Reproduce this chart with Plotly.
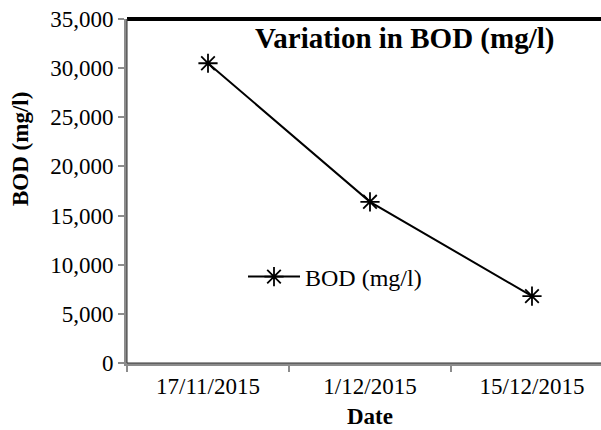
import plotly.graph_objects as go

dates = ["17/11/2015", "1/12/2015", "15/12/2015"]
bod = [30500, 16400, 6800]
series_name = "BOD (mg/l)"
y_ticks = [0, 5000, 10000, 15000, 20000, 25000, 30000, 35000]
y_tick_labels = ["0", "5,000", "10,000", "15,000", "20,000", "25,000", "30,000", "35,000"]

W, H = 601, 430
L, R, T, B = 127, 0, 19, 67
PW, PH = W - L - R, H - T - B

fig = go.Figure()
fig.add_trace(go.Scatter(
    x=dates, y=bod, name=series_name, mode="lines+markers",
    line=dict(color="black", width=2),
    marker=dict(symbol="asterisk-open", size=16, color="black",
                line=dict(color="black", width=1.8)),
))

font = "Liberation Serif"
fig.update_layout(
    width=W, height=H, margin=dict(l=L, r=R, t=T, b=B),
    paper_bgcolor="white", plot_bgcolor="white",
    font=dict(family=font, size=23, color="black"),
    showlegend=True,
    legend=dict(x=(243 - L) / PW, y=1 - (277 - T) / PH, xanchor="left", yanchor="middle",
                itemwidth=52,
                bgcolor="rgba(0,0,0,0)", font=dict(size=24, family=font, color="black")),
    xaxis=dict(
        type="category", range=[-0.5, 2.426], tickson="boundaries",
        showgrid=False, zeroline=False,
        showline=True, linecolor="#8c8c8c", linewidth=3,
        ticks="outside", ticklen=6, tickwidth=2, tickcolor="#8c8c8c",
        tickfont=dict(size=23, family=font, color="black"),
    ),
    yaxis=dict(
        range=[0, 35000], tickmode="array", tickvals=y_ticks, ticktext=y_tick_labels,
        showgrid=False, zeroline=False,
        showline=True, linecolor="#8c8c8c", linewidth=3,
        ticks="outside", ticklen=6, tickwidth=2, tickcolor="#8c8c8c",
        tickfont=dict(size=23, family=font, color="black"),
    ),
)

# top border line
fig.add_shape(type="line", xref="paper", yref="paper", x0=0, x1=1, y0=1, y1=1,
              line=dict(color="black", width=4))
# dark centre of axis lines
fig.add_shape(type="line", xref="paper", yref="paper", x0=0, x1=0, y0=0, y1=1,
              line=dict(color="#333333", width=1))
fig.add_shape(type="line", xref="paper", yref="paper", x0=0, x1=1, y0=0, y1=0,
              line=dict(color="#333333", width=1))

# chart title
fig.add_annotation(text="<b>Variation in BOD (mg/l)</b>", xref="paper", yref="paper",
                   x=(404 - L) / PW, y=1 - (38 - T) / PH, xanchor="center", yanchor="middle",
                   showarrow=False, font=dict(size=29, family=font, color="black"))
# axis titles
fig.add_annotation(text="<b>BOD (mg/l)</b>", xref="paper", yref="paper",
                   x=(20 - L) / PW, y=1 - (149 - T) / PH, xanchor="center", yanchor="middle",
                   textangle=-90, showarrow=False,
                   font=dict(size=23, family=font, color="black"))
fig.add_annotation(text="<b>Date</b>", xref="paper", yref="paper",
                   x=(370 - L) / PW, y=-(416 - T - PH) / PH, xanchor="center", yanchor="middle",
                   showarrow=False, font=dict(size=23, family=font, color="black"))

fig.write_html("out.html")
